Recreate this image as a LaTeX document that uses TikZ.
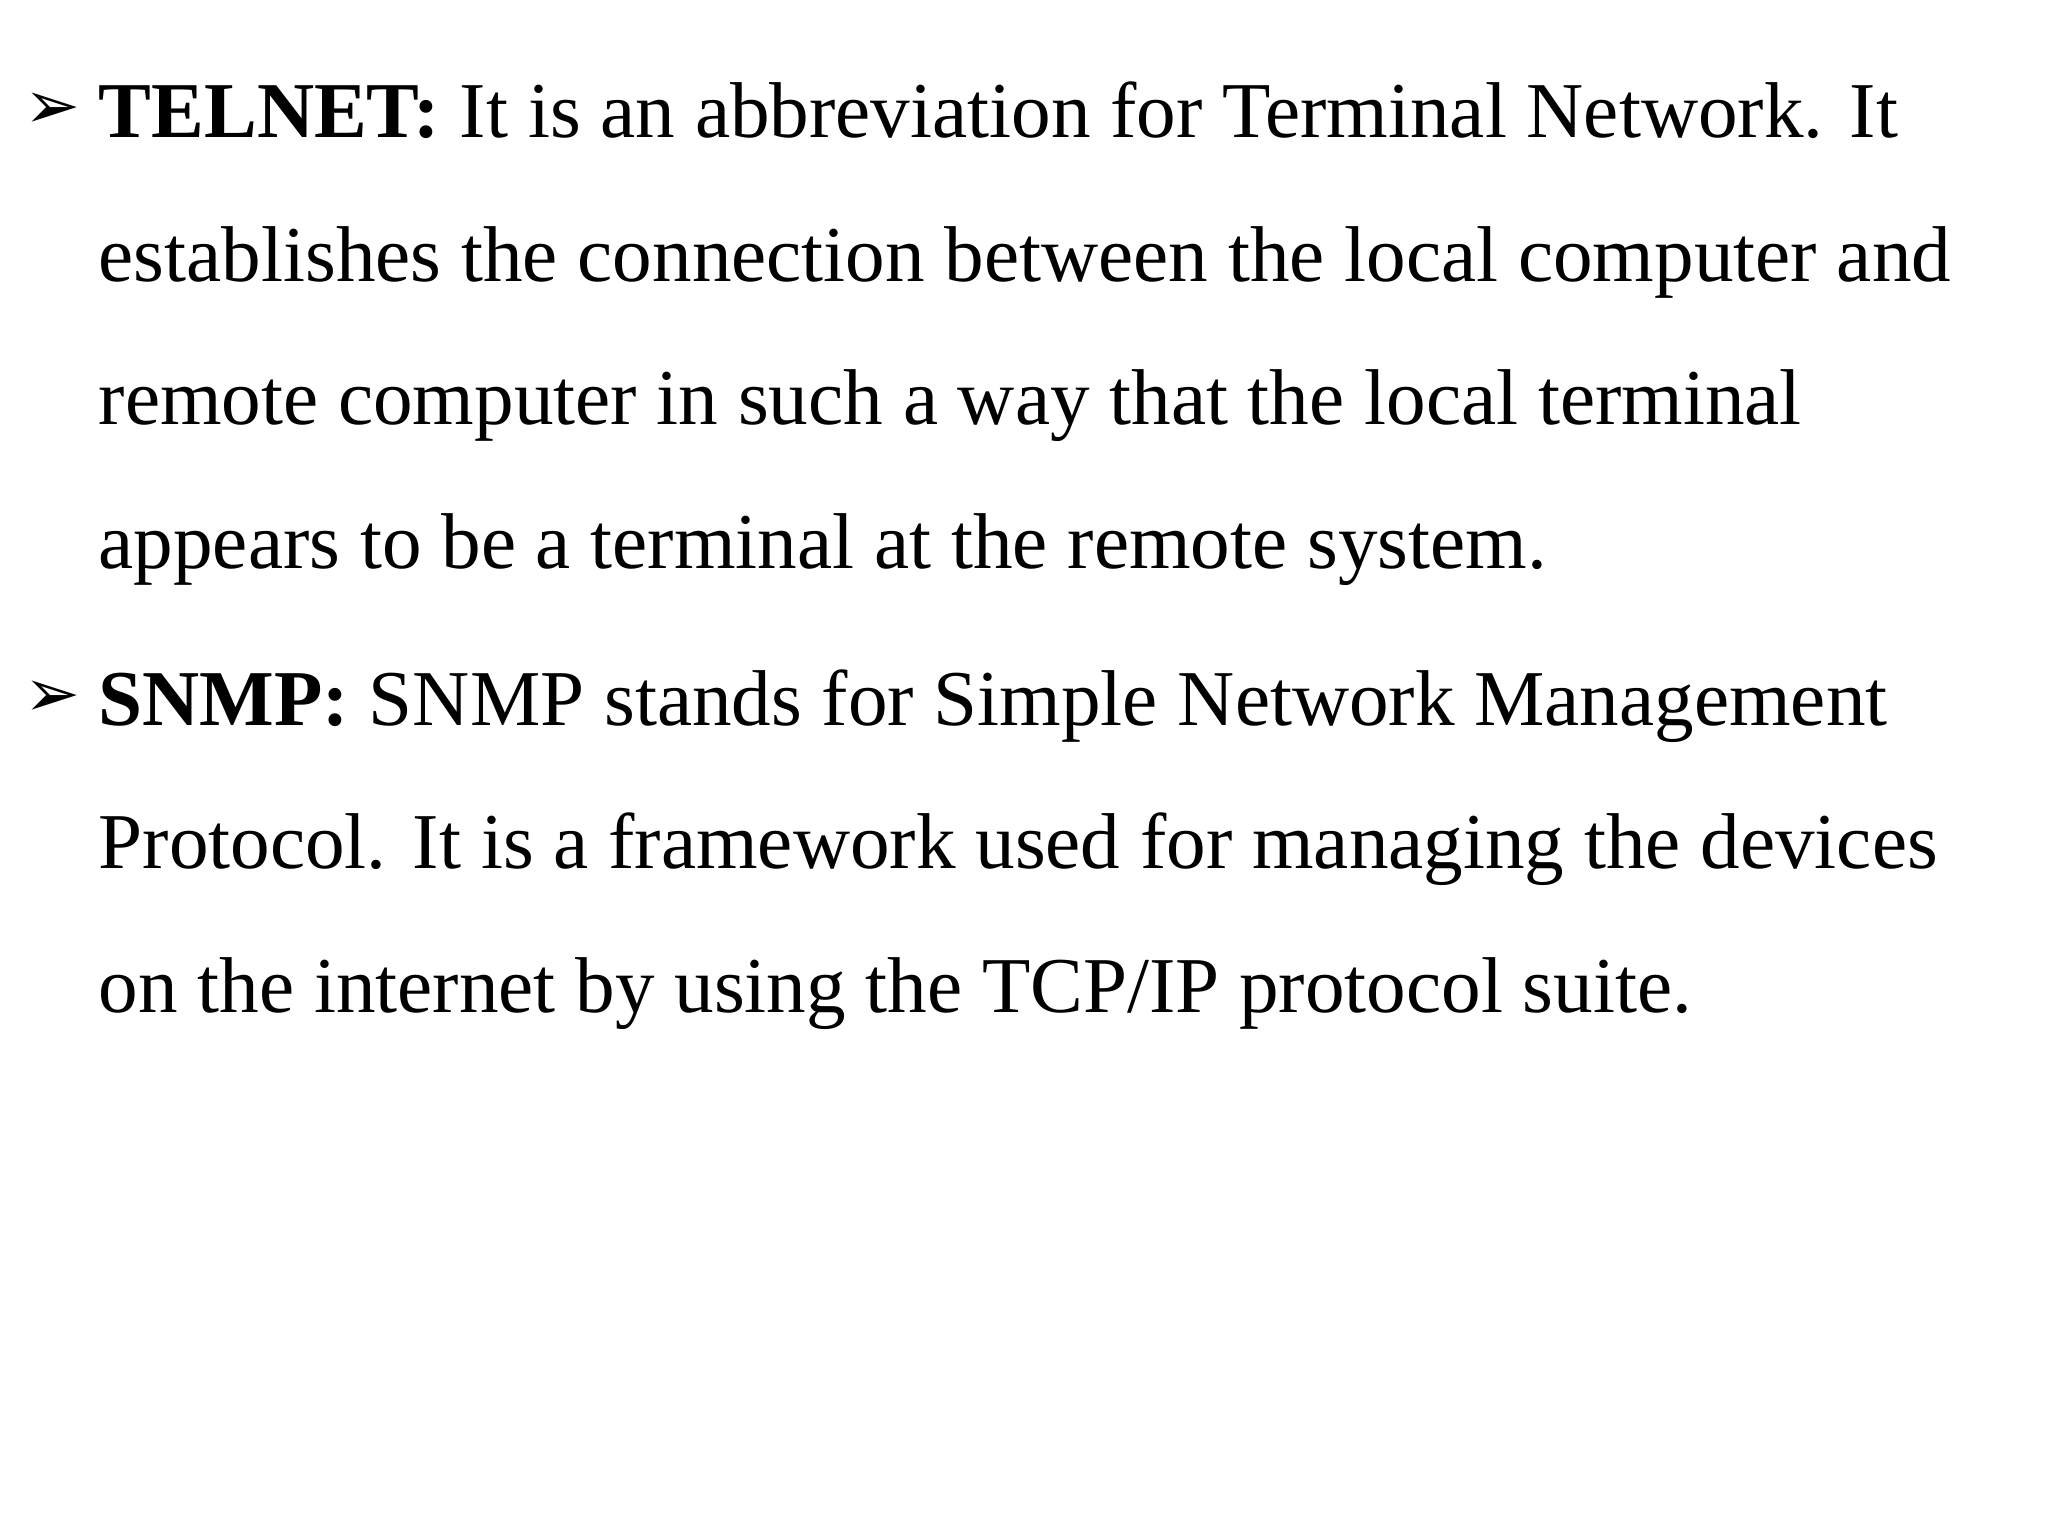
\documentclass[tikz,border=0pt]{standalone}
\usepackage{fontspec}
\setmainfont{Liberation Serif}
\newfontfamily\symfont{DejaVu Sans}
\begin{document}
\begin{tikzpicture}[x=0.01cm,y=-0.01cm,
  txt/.style={anchor=base west,inner sep=0pt,font=\fontsize{22.5pt}{27pt}\selectfont},
  bul/.style={anchor=base west,inner sep=0pt,font=\symfont\fontsize{19pt}{22pt}\selectfont}]
\fill[white] (0,0) rectangle (2048,1536);
\useasboundingbox (0,0) rectangle (2048,1536);
\node[bul] (b1) at (24,128) {➢};
\node[txt] (l1) at (98,137) {\textbf{TELNET:} It is an abbreviation for Terminal Network. It};
\node[txt] (l2) at (98,281) {establishes the connection between the local computer and};
\node[txt] (l3) at (98,424) {remote computer in such a way that the local terminal};
\node[txt] (l4) at (98,568) {appears to be a terminal at the remote system.};
\node[bul] (b2) at (24,716) {➢};
\node[txt] (l5) at (98,725) {\textbf{SNMP:} SNMP stands for Simple Network Management};
\node[txt] (l6) at (98,868) {Protocol. It is a framework used for managing the devices};
\node[txt] (l7) at (98,1012) {on the internet by using the TCP/IP protocol suite.};
\end{tikzpicture}
\end{document}
